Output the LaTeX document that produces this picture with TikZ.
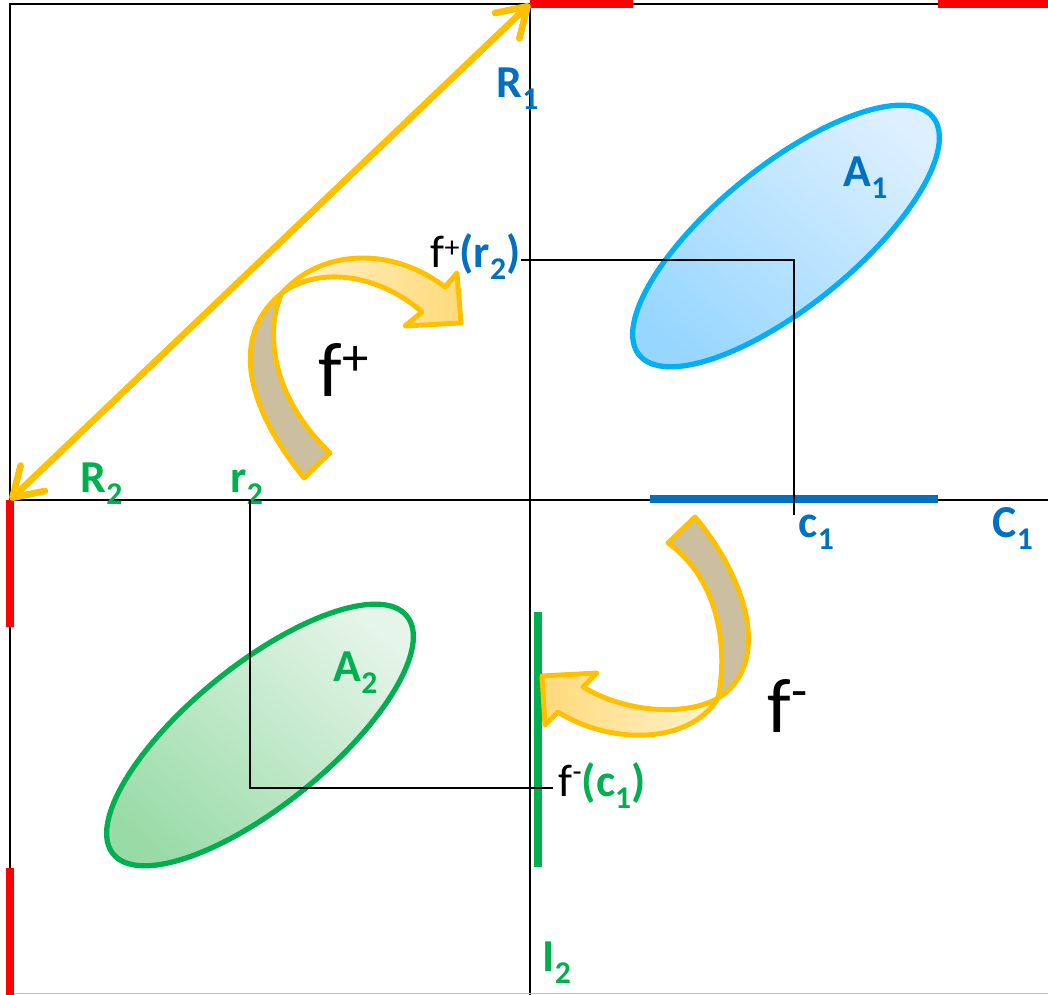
\documentclass[tikz,border=0pt]{standalone}
\usepackage{fontspec}
\setmainfont{Carlito}
\usetikzlibrary{arrows.meta}
\definecolor{myblue}{HTML}{0070C0}
\definecolor{mygreen}{HTML}{00B050}
\definecolor{myorange}{HTML}{FFC000}
\definecolor{skyb}{HTML}{00B0F0}
\definecolor{bandtan}{HTML}{CCBFA0}
\definecolor{ylight}{HTML}{FFF2CC}
\definecolor{ydark}{HTML}{FFDA7A}
\definecolor{blight}{HTML}{DDF0FF}
\definecolor{bdark}{HTML}{96D6FF}
\definecolor{glight}{HTML}{E6F5EA}
\definecolor{gdark}{HTML}{98DBA6}
\newcommand\lsub[1]{\raisebox{-3.4pt}{\fontsize{9}{9}\selectfont #1}}
\newcommand\lsup[2]{\raisebox{#1}{\fontsize{8.5}{8.5}\selectfont\mdseries #2}}
\newcommand\bsup[2]{\raisebox{#1}{\fontsize{15}{15}\selectfont #2}}
\begin{document}
\begin{tikzpicture}[x=0.01cm,y=-0.01cm,
  axis/.style={black,line width=0.6pt},
  redseg/.style={red,line width=2.2pt},
  band/.style={draw=myorange,line width=1.4pt,line join=round},
  lbl/.style={inner sep=0pt,anchor=base west,font=\fontsize{13}{13}\selectfont\bfseries},
  bigf/.style={inner sep=0pt,anchor=base west,font=\fontsize{22}{22}\selectfont},
  guide/.style={black,line width=0.6pt}]
\useasboundingbox (0,0) rectangle (1048,995);
\fill[white] (0,0) rectangle (1048,995);
% coordinates
\coordinate (TL) at (10,4);
\coordinate (TR) at (1048,4);
\coordinate (BL) at (10,995);
\coordinate (O) at (530,500);
\coordinate (Otop) at (530,4);
\coordinate (Obot) at (530,995);
\coordinate (Hl) at (10,500);
\coordinate (Hr) at (1048,500);
% ellipses
\shadedraw[draw=skyb,line width=1.5pt,top color=blight,bottom color=bdark,shading angle=-40,
  rotate around={39:(786,236)}] (786,236) ellipse (189 and 70);
\shadedraw[draw=mygreen,line width=1.5pt,top color=glight,bottom color=gdark,shading angle=-40,
  rotate around={39:(260,735)}] (260,735) ellipse (189 and 70);
% axes
\draw[axis] (BL) -- (TL) -- (TR);
\draw[axis] (Otop) -- (Obot);
\draw[axis] (Hl) -- (Hr);
\draw[gray!50,line width=0.3pt] (14,993.5) -- (1048,993.5);
% red segments
\draw[redseg] (530,4) -- (633,4);
\draw[redseg] (938,4) -- (1048,4);
\draw[redseg] (10,500) -- (10,627);
\draw[redseg] (10,868) -- (10,995);
% blue and green segments
\draw[myblue,line width=2.3pt] (650,499) -- (938,499);
\draw[mygreen,line width=2.3pt] (538,612) -- (538,867);
% orange double arrow
\draw[myorange,line width=1.9pt,line cap=round,
  {Straight Barb[length=8pt,width=10pt,round]}-{Straight Barb[length=8pt,width=10pt,round]}]
  (Hl) -- (Otop);
% labels
\node[lbl,myblue] (R1) at (496,98) {R\lsub{1}};
\node[lbl,myblue] (A1) at (843,187) {A\lsub{1}};
\node[lbl] (fr) at (430,268) {\mdseries f\lsup{3pt}{+}\textcolor{myblue}{\bfseries(r\lsub{2})}};
\node[bigf] (fplus) at (318,397) {f\bsup{6pt}{+}};
\node[lbl,mygreen] (R2) at (80,493) {R\lsub{2}};
\node[lbl,mygreen] (r2) at (230,493) {r\lsub{2}};
\node[lbl,myblue] (c1) at (798,538) {c\lsub{1}};
\node[lbl,myblue] (C1) at (992,538) {C\lsub{1}};
\node[lbl,mygreen] (A2) at (333,682) {A\lsub{2}};
\node[bigf] (fminus) at (767,733) {f\bsup{7pt}{-}};
\node[lbl] (fc) at (558,797) {\mdseries f\lsup{4.5pt}{-}\textcolor{mygreen}{\bfseries(c\lsub{1})}};
\node[lbl,mygreen] (I2) at (542,972) {I\lsub{2}};
% guide lines
\coordinate (g1) at (794,260);
\coordinate (g1e) at (794,515);
\coordinate (g2s) at (250,500);
\coordinate (g2) at (250,788);
\coordinate (g2e) at (553,788);
\draw[guide] (fr.east |- g1) -- (g1) -- (g1e);
\draw[guide] (g2s) -- (g2) -- (g2e);
% f+ curved arrow
\filldraw[band,fill=bandtan] (304,478) .. controls (245,405) and (230,335) .. (282,293)
  .. controls (265,330) and (270,395) .. (330,453) -- cycle;
\shadedraw[band,left color=ylight,right color=ydark] (282,293) .. controls (320,250) and (390,245) .. (445,287)
  -- (457,273) -- (461,323) -- (405,326) -- (422,312) .. controls (380,275) and (320,265) .. (282,293) -- cycle;
% f- curved arrow
\filldraw[band,fill=bandtan] (695,517) .. controls (748,580) and (772,665) .. (718,698)
  .. controls (728,650) and (720,580) .. (668,543) -- cycle;
\shadedraw[band,left color=ydark,right color=ylight] (718,698) .. controls (690,715) and (630,715) .. (583,687)
  -- (597,673) -- (542,676) -- (545,725) -- (558,712) .. controls (610,745) and (690,745) .. (718,698) -- cycle;
\end{tikzpicture}
\end{document}
